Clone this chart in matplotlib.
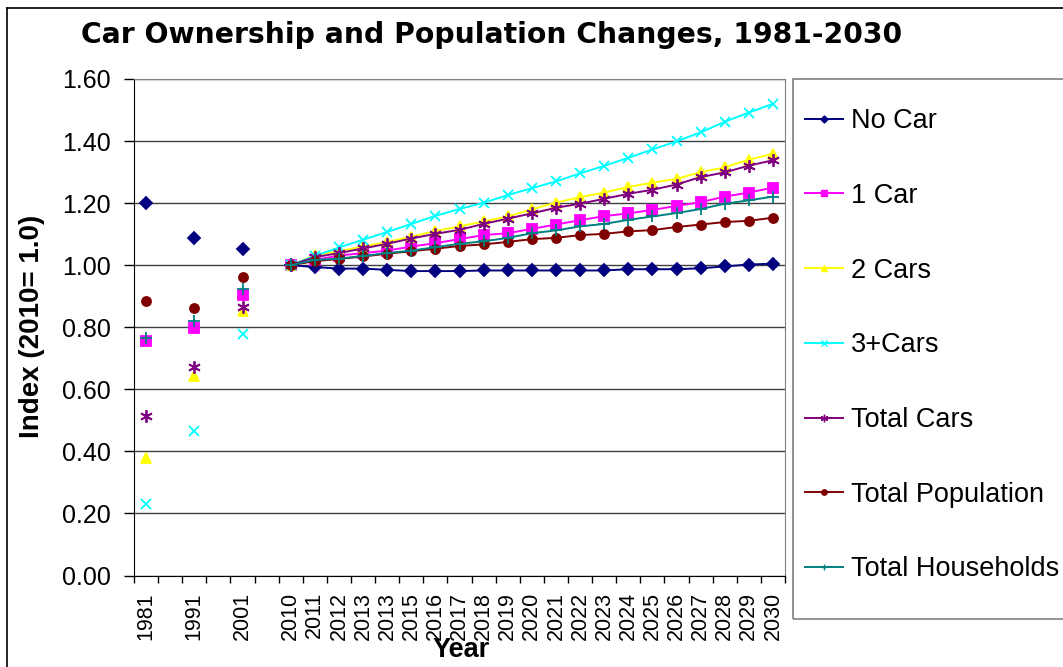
import matplotlib
matplotlib.use('Agg')
import matplotlib.pyplot as plt
from matplotlib.lines import Line2D
from matplotlib.patches import Rectangle

plt.rcParams['font.family'] = ['Liberation Sans', 'DejaVu Sans']

# category labels (Excel category axis, blanks between the census years)
cat_labels = ['1981', '', '1991', '', '2001', '',
              '2010', '2011', '2012', '2013', '2013', '2015', '2016', '2017',
              '2018', '2019', '2020', '2021', '2022', '2023', '2024', '2025',
              '2026', '2027', '2028', '2029', '2030']
hist_pos = [0, 2, 4]
proj_pos = list(range(6, 27))

series_names = ['No Car', '1 Car', '2 Cars', '3+Cars', 'Total Cars',
                'Total Population', 'Total Households']

# historic values 1981, 1991, 2001
no_car_hist = [1.200, 1.089, 1.052]
car1_hist = [0.756, 0.797, 0.904]
car2_hist = [0.380, 0.643, 0.853]
car3_hist = [0.232, 0.466, 0.778]
tot_cars_hist = [0.514, 0.673, 0.866]
pop_hist = [0.883, 0.861, 0.963]
hh_hist = [0.765, 0.821, 0.924]

# projections 2010 - 2030
no_car_proj = [1.000, 0.994, 0.989, 0.989, 0.985, 0.981, 0.981, 0.981, 0.983, 0.983, 0.983,
               0.983, 0.983, 0.983, 0.987, 0.987, 0.987, 0.990, 0.996, 1.002, 1.005]
car1_proj = [1.000, 1.017, 1.031, 1.039, 1.047, 1.060, 1.071, 1.084, 1.097, 1.103, 1.117,
             1.131, 1.145, 1.158, 1.167, 1.178, 1.191, 1.203, 1.221, 1.234, 1.250]
car2_proj = [1.000, 1.032, 1.045, 1.060, 1.075, 1.092, 1.110, 1.125, 1.141, 1.157, 1.180,
             1.202, 1.219, 1.234, 1.252, 1.266, 1.278, 1.300, 1.315, 1.340, 1.359]
car3_proj = [1.000, 1.030, 1.057, 1.082, 1.107, 1.133, 1.159, 1.181, 1.201, 1.226, 1.248,
             1.270, 1.296, 1.320, 1.346, 1.373, 1.399, 1.428, 1.462, 1.492, 1.520]
tot_cars_proj = [1.000, 1.026, 1.039, 1.054, 1.069, 1.086, 1.101, 1.114, 1.133, 1.150, 1.167,
                 1.185, 1.198, 1.214, 1.230, 1.243, 1.260, 1.284, 1.299, 1.321, 1.338]
pop_proj = [1.000, 1.013, 1.020, 1.028, 1.037, 1.045, 1.053, 1.062, 1.067, 1.075, 1.084,
            1.088, 1.097, 1.101, 1.109, 1.113, 1.123, 1.131, 1.139, 1.143, 1.153]
hh_proj = [1.000, 1.017, 1.021, 1.030, 1.039, 1.047, 1.058, 1.069, 1.077, 1.088, 1.103,
           1.112, 1.125, 1.133, 1.146, 1.157, 1.168, 1.181, 1.198, 1.209, 1.221]

hist_all = [no_car_hist, car1_hist, car2_hist, car3_hist, tot_cars_hist, pop_hist, hh_hist]
proj_all = [no_car_proj, car1_proj, car2_proj, car3_proj, tot_cars_proj, pop_proj, hh_proj]

colors = ['#000080', '#FF00FF', '#FFFF00', '#00FFFF', '#800080', '#800000', '#008080']
markers = ['D', 's', '^', 'x', (6, 2, 0), 'o', '+']
msizes = [6, 6.5, 7, 7, 9, 6.5, 8]

W, H = 1063, 667
fig = plt.figure(figsize=(W / 100.0, H / 100.0), dpi=100)
ax = fig.add_axes([134.0 / W, 1 - 575.5 / H, (785.0 - 134.0) / W, (575.5 - 79.0) / H])

handles = []
for i in range(len(series_names)):
	# census points, no connecting line
	ax.plot(hist_pos, hist_all[i], linestyle='none', marker=markers[i], color=colors[i],
		markersize=msizes[i], markeredgewidth=1.3, clip_on=False)
	# projection line
	ax.plot(proj_pos, proj_all[i], '-', marker=markers[i], color=colors[i],
		markersize=msizes[i], markeredgewidth=1.3, linewidth=1.4, clip_on=False)
	handles.append(Line2D([], [], color=colors[i], marker=markers[i], linewidth=1.4,
		markersize=msizes[i] * 0.6, markeredgewidth=1.0))

# axes options
ax.set_xlim(-0.5, 26.5)
ax.set_ylim(0, 1.6)
ax.set_yticks([0.2 * k for k in range(9)])
ax.set_yticklabels(['%.2f' % (0.2 * k) for k in range(9)], fontsize=18)
ax.set_xticks(range(len(cat_labels)))
ax.set_xticklabels(cat_labels, rotation=90, fontsize=15.5)
ax.set_xticks([k - 0.5 for k in range(len(cat_labels) + 1)], minor=True)
ax.tick_params(axis='x', which='major', length=0, pad=12)
ax.tick_params(axis='x', which='minor', length=5, width=1, direction='out')
ax.tick_params(axis='y', length=7, width=1, direction='out', pad=10)
ax.yaxis.grid(True, color='#404040', linewidth=1)
ax.set_axisbelow(True)
ax.spines['left'].set_color('black')
ax.spines['bottom'].set_color('black')
ax.spines['top'].set_color('#808080')
ax.spines['right'].set_color('#808080')

# titles and labels
fig.text(492.0 / W, 1 - 43.0 / H, 'Car Ownership and Population Changes, 1981-2030',
	fontsize=20.3, fontweight='bold', family='DejaVu Sans', ha='center', va='baseline')
fig.text(32.0 / W, 1 - 326.0 / H, 'Index (2010= 1.0)', fontsize=20, fontweight='bold',
	rotation=90, ha='center', va='center')
fig.text(461.0 / W, 1 - 650.0 / H, 'Year', fontsize=19.5, fontweight='bold',
	ha='center', va='center')

# legend box (runs off the right edge like the original)
fig.patches.append(Rectangle((793.0 / W, 1 - 619.0 / H), (1090.0 - 793.0) / W, (619.0 - 79.0) / H,
	transform=fig.transFigure, fill=False, edgecolor='#808080', linewidth=1.2))
fig.legend(handles, series_names, loc='upper left', bbox_to_anchor=(805.0 / W, 1 - 108.0 / H),
	frameon=False, fontsize=19.5, labelspacing=1.8, handlelength=1.4, handletextpad=0.3,
	borderpad=0, borderaxespad=0)

# outer chart border
fig.lines.append(Line2D([7.0 / W, 7.0 / W], [0, 1 - 8.0 / H], transform=fig.transFigure,
	color='black', linewidth=1.2))
fig.lines.append(Line2D([7.0 / W, 1], [1 - 8.0 / H, 1 - 8.0 / H], transform=fig.transFigure,
	color='black', linewidth=1.2))

fig.savefig('out.png', dpi=100)
